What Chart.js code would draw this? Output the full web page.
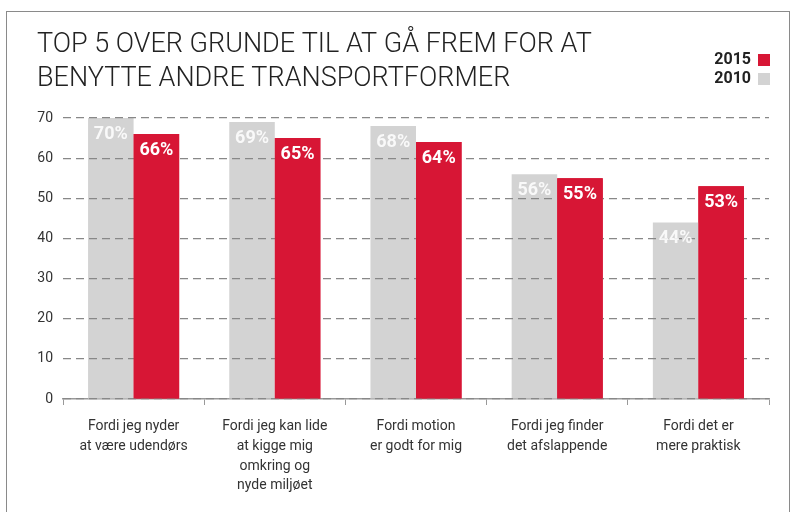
<!DOCTYPE html>
<html>
<head>
<meta charset="utf-8">
<script src="https://cdn.jsdelivr.net/npm/chart.js@4"></script>
<style>
  body { margin: 0; background: #fff; }
  #wrap { position: relative; width: 795px; height: 512px; overflow: hidden; }
  #frame { position: absolute; left: 6px; top: 11px; width: 782px; height: 520px;
           border: 1px solid #8a8a8a; border-bottom: none; }
  #myChart { position: absolute; left: 0; top: 0; }
</style>
</head>
<body>
<div id="wrap">
  <div id="frame"></div>
  <canvas id="myChart" width="795" height="512"></canvas>
</div>
<script>
// data
let categories = [
    ["Fordi jeg nyder", "at være udendørs"],
    ["Fordi jeg kan lide", "at kigge mig", "omkring og", "nyde miljøet"],
    ["Fordi motion", "er godt for mig"],
    ["Fordi jeg finder", "det afslappende"],
    ["Fordi det er", "mere praktisk"]
];
let values2010 = [70, 69, 68, 56, 44];
let values2015 = [66, 65, 64, 55, 53];
let seriesNames = ["2010", "2015"];
let yTicks = [0, 10, 20, 30, 40, 50, 60, 70];
let titleLines = ["TOP 5 OVER GRUNDE TIL AT GÅ FREM FOR AT", "BENYTTE ANDRE TRANSPORTFORMER"];

let grey = "#d3d3d3";
let red = "#d71635";

// red bars sit on top of the dashed grid, grey ones below it
let layerPlugin = {
    id: "layers",
    afterDraw(chart) {
        let ctx = chart.ctx;
        chart.getDatasetMeta(1).controller.draw();

        // value labels
        ctx.save();
        ctx.font = "bold 18px Roboto";
        ctx.textAlign = "center";
        ctx.textBaseline = "top";
        chart.data.datasets.forEach((ds, i) => {
            ctx.fillStyle = i === 0 ? "rgba(255,255,255,0.85)" : "#fff";
            chart.getDatasetMeta(i).data.forEach((bar, j) => {
                ctx.fillText(ds.data[j] + "%", bar.x, bar.y + 7);
            });
        });
        ctx.restore();

        // legend, top right
        ctx.save();
        ctx.font = "bold 16px Roboto";
        ctx.textAlign = "right";
        ctx.textBaseline = "middle";
        let items = [[seriesNames[1], red], [seriesNames[0], grey]];
        items.forEach((it, k) => {
            let y = 60 + k * 19;
            ctx.fillStyle = "#222";
            ctx.fillText(it[0], 751, y);
            ctx.fillStyle = it[1];
            ctx.fillRect(758, y - 6, 12, 12);
        });
        ctx.restore();
    }
};

new Chart("myChart", {
    type: "bar",
    data: {
        labels: categories,
        datasets: [
            { label: seriesNames[0], data: values2010, backgroundColor: grey },
            { label: seriesNames[1], data: values2015, backgroundColor: red }
        ]
    },
    options: {
        responsive: false,
        animation: false,
        layout: { padding: { left: 37, right: 26, top: 0, bottom: 0 } },
        datasets: { bar: { categoryPercentage: 0.645, barPercentage: 1 } },
        plugins: {
            legend: { display: false },
            tooltip: { enabled: false },
            title: {
                display: true,
                text: titleLines,
                align: "start",
                color: "#222",
                font: { family: "Roboto", size: 27, weight: 300, lineHeight: 1.26 },
                padding: { top: 28, bottom: 22 }
            }
        },
        scales: {
            x: {
                afterFit: (s) => { s.height = 113; },
                grid: { offset: true, drawOnChartArea: false, drawTicks: true, tickLength: 6, color: "#999" },
                border: { color: "#999", width: 1.5 },
                ticks: { color: "#333", padding: 12, font: { family: "Roboto", size: 14, lineHeight: 1.4 } }
            },
            y: {
                min: 0,
                max: 70,
                afterFit: (s) => { s.width = 26; },
                afterBuildTicks: (s) => { s.ticks = yTicks.map(v => ({ value: v })); },
                grid: { z: 1, color: "#888", drawTicks: false, lineWidth: 1.2 },
                border: { display: false, dash: [8, 5] },
                ticks: { color: "#333", padding: 10, font: { family: "Roboto", size: 14 } }
            }
        }
    },
    plugins: [layerPlugin]
});
</script>
</body>
</html>
